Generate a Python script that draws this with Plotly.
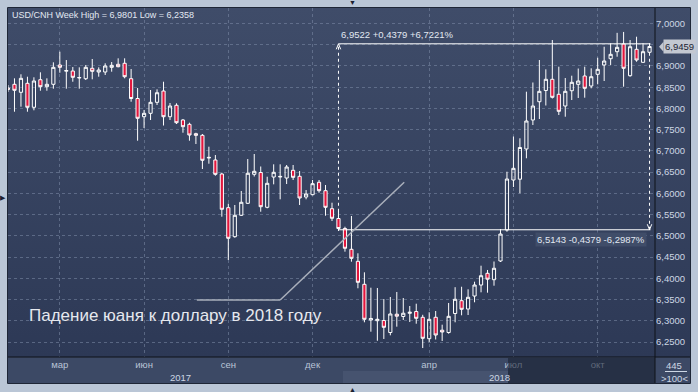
import base64
import pandas as pd
import plotly.graph_objects as go

# ---------------- data (weekly USD/CNH candles) ----------------
week_start = "2017-01-02"
open_ = [6.8480, 6.8568, 6.8380, 6.8592, 6.8027, 6.8676, 6.8512, 6.8568, 6.9023, 6.8877,
         6.8881, 6.8716, 6.8700, 6.8945, 6.8858, 6.8858, 6.8968, 6.9039, 6.9063, 6.8700,
         6.8234, 6.7805, 6.7885, 6.8144, 6.8410, 6.7805, 6.8074, 6.7728, 6.7626, 6.7405,
         6.7367, 6.6833, 6.6786, 6.6456, 6.5663, 6.4980, 6.5484, 6.5766, 6.6449, 6.6491,
         6.5672, 6.6385, 6.6385, 6.6362, 6.6543, 6.6402, 6.5914, 6.5969, 6.6261, 6.6063,
         6.5639, 6.5408, 6.5173, 6.4683, 6.4400, 6.3859, 6.3018, 6.3002, 6.3007, 6.2724,
         6.3155, 6.3101, 6.3176, 6.3218, 6.3082, 6.2578, 6.3082, 6.2778, 6.2724, 6.3171,
         6.3473, 6.3277, 6.3583, 6.3842, 6.4118, 6.3967, 6.4408, 6.5137, 6.6315, 6.6334,
         6.7045, 6.7728, 6.8158, 6.8422, 6.8686, 6.8333, 6.8057, 6.8417, 6.8568, 6.8764,
         6.8528, 6.8804, 6.9023, 6.9171, 6.9336, 6.9517, 6.8771, 6.9392, 6.9086, 6.9322]
high_ = [6.8550, 6.8709, 6.8804, 6.8747, 6.8733, 6.8851, 6.8709, 6.9086, 6.9336, 6.9140,
         6.8975, 6.8968, 6.9023, 6.9164, 6.8968, 6.9063, 6.9093, 6.9180, 6.9180, 6.8928,
         6.8481, 6.7963, 6.8434, 6.8450, 6.8629, 6.8128, 6.8121, 6.7751, 6.7664, 6.7428,
         6.7398, 6.7099, 6.6903, 6.6487, 6.5757, 6.5726, 6.6056, 6.6809, 6.6927, 6.6633,
         6.6392, 6.6684, 6.6684, 6.6668, 6.6668, 6.6527, 6.6079, 6.6315, 6.6315, 6.6197,
         6.5780, 6.5592, 6.5215, 6.5467, 6.4589, 6.4141, 6.3779, 6.3772, 6.3513, 6.3560,
         6.3678, 6.3536, 6.3348, 6.3402, 6.3141, 6.3200, 6.3230, 6.2908, 6.3419, 6.3791,
         6.3802, 6.3741, 6.3920, 6.4297, 6.4196, 6.4396, 6.5161, 6.6510, 6.7339, 6.7297,
         6.8394, 6.8611, 6.9140, 6.8921, 6.9611, 6.8983, 6.8716, 6.8771, 6.8940, 6.8983,
         6.8945, 6.9194, 6.9453, 6.9534, 6.9780, 6.9801, 6.9611, 6.9689, 6.9534, 6.9534]
low_ = [6.8390, 6.7923, 6.8041, 6.7923, 6.7956, 6.8417, 6.8417, 6.8465, 6.8841, 6.8465,
        6.8629, 6.8465, 6.8669, 6.8686, 6.8747, 6.8787, 6.8865, 6.8968, 6.8709, 6.8158,
        6.7240, 6.7539, 6.7728, 6.8081, 6.7598, 6.7728, 6.7633, 6.7428, 6.7240, 6.7162,
        6.6574, 6.6699, 6.6416, 6.5451, 6.4431, 6.4956, 6.5467, 6.5750, 6.6397, 6.5568,
        6.5648, 6.6213, 6.5860, 6.6220, 6.6315, 6.5726, 6.5860, 6.5955, 6.6016, 6.5474,
        6.5349, 6.5114, 6.4627, 6.4391, 6.3765, 6.2964, 6.2743, 6.2529, 6.2571, 6.2658,
        6.2861, 6.3018, 6.2971, 6.2931, 6.2358, 6.2500, 6.2559, 6.2524, 6.2696, 6.2964,
        6.3129, 6.3136, 6.3435, 6.3670, 6.3661, 6.3826, 6.4384, 6.5097, 6.6150, 6.6002,
        6.6826, 6.7610, 6.7751, 6.8069, 6.8234, 6.7845, 6.7805, 6.8198, 6.8246, 6.8253,
        6.8474, 6.8568, 6.8646, 6.9023, 6.9218, 6.8512, 6.8747, 6.9100, 6.9077, 6.9258]
close_ = [6.8450, 6.8427, 6.8709, 6.8027, 6.8646, 6.8512, 6.8568, 6.8968, 6.8968, 6.8893,
          6.8733, 6.8728, 6.8968, 6.8874, 6.8905, 6.8999, 6.9015, 6.8983, 6.8747, 6.8234,
          6.7768, 6.7885, 6.8144, 6.8370, 6.7805, 6.8057, 6.7664, 6.7570, 6.7374, 6.7367,
          6.6779, 6.6847, 6.6449, 6.5625, 6.4942, 6.5484, 6.5790, 6.6473, 6.6520, 6.5686,
          6.6237, 6.6496, 6.6399, 6.6621, 6.6378, 6.5891, 6.5985, 6.6228, 6.6063, 6.5672,
          6.5413, 6.5173, 6.4707, 6.4471, 6.3906, 6.3035, 6.3054, 6.3035, 6.2846, 6.3160,
          6.3108, 6.3178, 6.3200, 6.3058, 6.2587, 6.3035, 6.2665, 6.2736, 6.3105, 6.3506,
          6.3270, 6.3553, 6.3842, 6.4061, 6.3979, 6.4236, 6.5043, 6.6338, 6.6590, 6.7080,
          6.7704, 6.8057, 6.8403, 6.8686, 6.8262, 6.7932, 6.8403, 6.8615, 6.8646, 6.8474,
          6.8747, 6.8921, 6.9117, 6.9274, 6.9439, 6.8945, 6.9453, 6.9140, 6.9336, 6.9459]
dates = pd.date_range(week_start, periods=len(open_), freq="7D")

month_ticks = ["2017-02-27", "2017-05-29", "2017-08-28", "2017-11-27",
               "2018-04-02", "2018-07-02", "2018-10-01"]
month_labels = ["мар", "июн", "сен", "дек", "апр", "июл", "окт"]
year_labels = ["2017", "2018"]
price_ticks = [6.25, 6.30, 6.35, 6.40, 6.45, 6.50, 6.55, 6.60, 6.65, 6.70,
               6.75, 6.80, 6.85, 6.90, 6.95, 7.00]
hidden_price_tick = 6.95   # covered by the last-price marker in the reference

title_text = "USD/CNH Week High = 6,9801 Low = 6,2358"
measure_hi = 6.9522
measure_lo = 6.5143
measure_hi_text = "6,9522 +0,4379 +6,7221%"
measure_lo_text = "6,5143 -0,4379 -6,2987%"
measure_start = "2017-12-25"
measure_end = "2018-11-26"
last_price_text = "6,9459"
note_text = "Падение юаня к доллару в 2018 году"
note_line_x = ["2017-07-25", "2017-10-23", "2018-03-06"]
note_line_y = [6.3489, 6.3489, 6.6261]

FONT = "Liberation Sans, Arial, sans-serif"
LABEL = "#cdd6e4"
GRID = "rgba(125,140,168,0.55)"


def px(x):
    return (x - 8) / 647.0


def py(y):
    return (357 - y) / 349.0


price_text = ["" if abs(v - hidden_price_tick) < 1e-9 else f"{v:.4f}".replace(".", ",")
              for v in price_ticks]

fig = go.Figure()
fig.add_trace(go.Candlestick(
    x=dates, open=open_, high=high_, low=low_, close=close_,
    increasing=dict(line=dict(color="#ffffff", width=1), fillcolor="rgba(0,0,0,0)"),
    decreasing=dict(line=dict(color="#ffffff", width=1), fillcolor="#e3163d"),
    whiskerwidth=0, showlegend=False, hoverinfo="skip",
))

svg = ('<svg xmlns="http://www.w3.org/2000/svg" width="100" height="100" '
       'viewBox="0 0 100 100" preserveAspectRatio="none"><defs>'
       '<linearGradient id="g" x1="0" y1="0" x2="0" y2="1">'
       '<stop offset="0" stop-color="#3f4c69"/><stop offset="1" stop-color="#2d3956"/>'
       '</linearGradient></defs><rect width="100" height="100" fill="url(#g)"/></svg>')
src = "data:image/svg+xml;base64," + base64.b64encode(svg.encode()).decode()

shapes = []
# bottom axis panel
shapes.append(dict(type="rect", xref="paper", yref="paper", x0=px(8), x1=px(690),
                   y0=py(383), y1=py(357), fillcolor="#3c4965", line=dict(width=0), layer="below"))
shapes.append(dict(type="rect", xref="paper", yref="paper", x0=px(343), x1=px(508),
                   y0=py(383), y1=py(371), fillcolor="#46536f", line=dict(width=0), layer="below"))
shapes.append(dict(type="rect", xref="paper", yref="paper", x0=px(508), x1=px(655),
                   y0=py(383), y1=py(358), fillcolor="rgba(20,27,44,0.55)", line=dict(width=0), layer="above"))
# separators and frame
shapes.append(dict(type="line", xref="paper", yref="paper", x0=px(655), x1=px(655),
                   y0=py(383), y1=py(8), line=dict(color="#0e1219", width=1), layer="above"))
shapes.append(dict(type="line", xref="paper", yref="paper", x0=px(8), x1=px(690),
                   y0=py(357), y1=py(357), line=dict(color="#0e1219", width=1), layer="above"))
shapes.append(dict(type="rect", xref="paper", yref="paper", x0=px(7.5), x1=px(690.5),
                   y0=py(383.5), y1=py(7.5), line=dict(color="#1e2636", width=1), layer="above"))
shapes.append(dict(type="line", xref="paper", yref="paper", x0=px(665), x1=px(687),
                   y0=py(371.5), y1=py(371.5), line=dict(color=LABEL, width=1), layer="above"))

# measurement tool
ms = pd.Timestamp(measure_start)
me = pd.Timestamp(measure_end)
day = pd.Timedelta(days=1)
shapes.append(dict(type="line", xref="x", yref="y", x0=ms, x1=ms, y0=measure_lo, y1=measure_hi,
                   line=dict(color="#ffffff", width=1, dash="3px,3px"), layer="below"))
shapes.append(dict(type="line", xref="x", yref="y", x0=me, x1=me, y0=measure_lo, y1=low_[-1],
                   line=dict(color="#ffffff", width=1, dash="3px,3px"), layer="below"))
shapes.append(dict(type="line", xref="x", yref="y", x0=ms, x1=me + day, y0=measure_hi, y1=measure_hi,
                   line=dict(color="#ffffff", width=1), layer="above"))
shapes.append(dict(type="line", xref="x", yref="y", x0=ms, x1=me + day, y0=measure_lo, y1=measure_lo,
                   line=dict(color="#ffffff", width=1), layer="above"))
for dx in (-2.4, 2.4):
    shapes.append(dict(type="line", xref="x", yref="y", x0=ms, x1=ms + dx * day,
                       y0=measure_hi, y1=measure_hi - 0.013, line=dict(color="#ffffff", width=1), layer="above"))
    shapes.append(dict(type="line", xref="x", yref="y", x0=me, x1=me + dx * day,
                       y0=measure_lo, y1=measure_lo + 0.013, line=dict(color="#ffffff", width=1), layer="above"))

# note line
shapes.append(dict(type="line", xref="x", yref="y", x0=note_line_x[0], x1=note_line_x[1],
                   y0=note_line_y[0], y1=note_line_y[1], line=dict(color="#a9afbb", width=1.5), layer="above"))
shapes.append(dict(type="line", xref="x", yref="y", x0=note_line_x[1], x1=note_line_x[2],
                   y0=note_line_y[1], y1=note_line_y[2], line=dict(color="#a9afbb", width=1.5), layer="above"))

# last price notch
shapes.append(dict(type="path", xref="paper", yref="paper",
                   path=f"M {px(659)} {py(46.7)} L {px(663.5)} {py(41.7)} L {px(663.5)} {py(51.7)} Z",
                   fillcolor="#c3c8d1", line=dict(width=0), layer="above"))

annotations = [
    dict(xref="paper", yref="paper", x=px(10), y=py(15.5), xanchor="left", yanchor="middle",
         text=title_text, showarrow=False, font=dict(family=FONT, size=9, color="#e2e8f2")),
    dict(xref="x", yref="y", x=ms, y=measure_hi, xanchor="left", yanchor="bottom", xshift=1, yshift=2,
         text=measure_hi_text, showarrow=False, font=dict(family=FONT, size=9.5, color="#e2e8f2")),
    dict(xref="paper", yref="y", x=px(647), y=measure_lo, xanchor="right", yanchor="top", yshift=-2,
         text=measure_lo_text, showarrow=False, bgcolor="#404d69", borderpad=1,
         font=dict(family=FONT, size=9.5, color="#e2e8f2")),
    dict(xref="paper", yref="paper", x=px(27), y=py(315), xanchor="left", yanchor="middle",
         text=note_text, showarrow=False, font=dict(family=FONT, size=17, color="#e6e8ee")),
    dict(xref="paper", yref="paper", x=px(180), y=py(377.5), xanchor="center", yanchor="middle",
         text=year_labels[0], showarrow=False, font=dict(family=FONT, size=9.5, color=LABEL)),
    dict(xref="paper", yref="paper", x=px(499.5), y=py(377.5), xanchor="center", yanchor="middle",
         text=year_labels[1], showarrow=False, font=dict(family=FONT, size=9.5, color=LABEL)),
    dict(xref="paper", yref="paper", x=px(674), y=py(365), xanchor="center", yanchor="middle",
         text="445", showarrow=False, font=dict(family=FONT, size=9.5, color=LABEL)),
    dict(xref="paper", yref="paper", x=px(674), y=py(378), xanchor="center", yanchor="middle",
         text="&gt;100&lt;", showarrow=False, font=dict(family=FONT, size=9.5, color=LABEL)),
    dict(xref="paper", yref="y", x=px(663), y=close_[-1], xanchor="left", yanchor="middle",
         text=last_price_text, showarrow=False, bgcolor="#c3c8d1", borderpad=1,
         font=dict(family=FONT, size=9.5, color="#1b2333")),
    dict(xref="paper", yref="paper", x=px(352), y=py(2), xanchor="center", yanchor="middle",
         text="▼", showarrow=False, font=dict(family=FONT, size=7, color="#1a2030")),
    dict(xref="paper", yref="paper", x=px(3), y=py(197), xanchor="center", yanchor="middle",
         text="▶", showarrow=False, font=dict(family=FONT, size=7, color="#1a2030")),
    dict(xref="paper", yref="paper", x=px(352), y=py(389), xanchor="center", yanchor="middle",
         text="▲", showarrow=False, font=dict(family=FONT, size=7, color="#1a2030")),
]

fig.update_layout(
    width=698, height=392,
    margin=dict(l=8, r=43, t=8, b=35),
    paper_bgcolor="#bac6d6",
    plot_bgcolor="rgba(0,0,0,0)",
    separators=", ",
    font=dict(family=FONT, size=9.5, color=LABEL),
    showlegend=False,
    hovermode=False,
    images=[dict(source=src, xref="paper", yref="paper", x=px(8), y=py(8),
                 sizex=px(690) - px(8), sizey=py(8) - py(357), xanchor="left", yanchor="top",
                 sizing="stretch", layer="below")],
    xaxis=dict(type="date", range=["2017-01-02", "2018-12-01 22:00"],
               rangeslider=dict(visible=False),
               tickvals=month_ticks, ticktext=month_labels, ticks="",
               showgrid=True, gridcolor=GRID, griddash="3px,3px", gridwidth=1,
               zeroline=False, showline=False,
               tickfont=dict(family=FONT, size=9.5, color="#b9c4d6")),
    yaxis=dict(side="right", range=[6.2147, 7.0365], tickvals=price_ticks, ticktext=price_text,
               ticks="", showgrid=True, gridcolor=GRID, griddash="3px,3px",
               gridwidth=1, zeroline=False, showline=False,
               tickfont=dict(family=FONT, size=9.5, color=LABEL)),
    shapes=shapes,
    annotations=annotations,
)

fig.write_html("out.html",
               config={"displayModeBar": False, "staticPlot": True},
               post_script="document.body.style.margin='0';document.body.style.overflow='hidden';")
